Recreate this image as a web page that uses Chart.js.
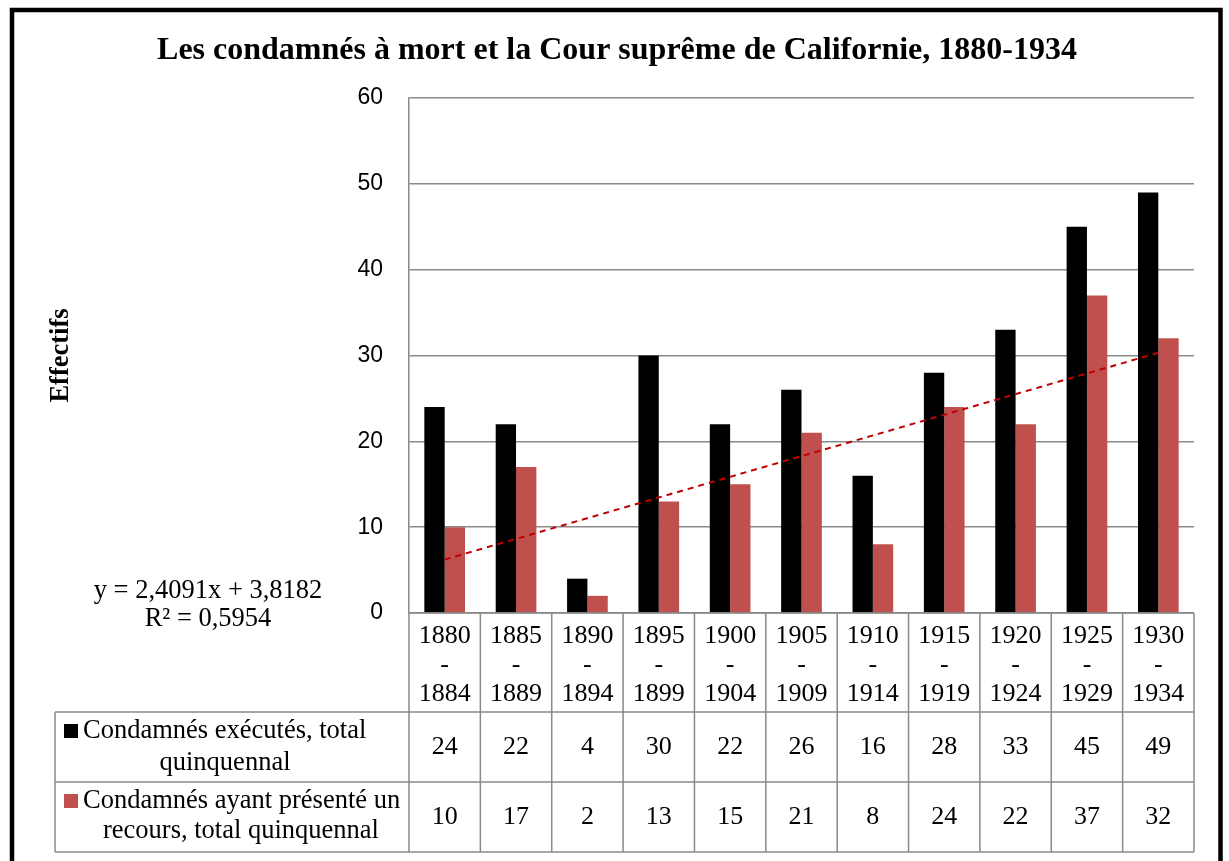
<!DOCTYPE html>
<html>
<head>
<meta charset="utf-8">
<script src="https://cdn.jsdelivr.net/npm/chart.js@4/dist/chart.umd.min.js"></script>
<style>
html,body{margin:0;padding:0;background:#fff;}
#wrap{width:1229px;height:861px;}
</style>
</head>
<body>
<div id="wrap"><canvas id="c" width="1229" height="861"></canvas></div>
<script>
const titleText = 'Les condamnés à mort et la Cour suprême de Californie, 1880-1934';
const categories = ['1880-1884','1885-1889','1890-1894','1895-1899','1900-1904','1905-1909','1910-1914','1915-1919','1920-1924','1925-1929','1930-1934'];
const executed = [24,22,4,30,22,26,16,28,33,45,49];
const appeals = [10,17,2,13,15,21,8,24,22,37,32];
const trendValues = [6.23,null,null,null,null,null,null,null,null,null,30.32];
const seriesNames = [['Condamnés exécutés, total','quinquennal'],['Condamnés ayant présenté un','recours, total quinquennal']];
const trendText = ['y = 2,4091x + 3,8182','R² = 0,5954'];
const yTicks = [0,10,20,30,40,50,60];

const SERIF = '"Liberation Serif","Times New Roman",serif';
const SANS = '"Liberation Sans",Arial,sans-serif';
const GRID = '#8a8a8a';
const BLACK = '#000000';
const RED = '#C0504D';

const tablePlugin = {
  id: 'tablePlugin',
  beforeDraw(chart){
    const ctx = chart.ctx;
    ctx.save();
    ctx.fillStyle = '#fff';
    ctx.fillRect(0,0,chart.width,chart.height);
    ctx.restore();
  },
  afterDraw(chart){
    const ctx = chart.ctx;
    const xs = chart.scales.x;
    const area = chart.chartArea;
    const n = categories.length;
    const cw = (area.right - area.left)/n;
    const rowTop = [area.bottom, 712, 782, 852];
    const leftX = 55;
    ctx.save();
    ctx.strokeStyle = GRID;
    ctx.lineWidth = 1.5;
    ctx.beginPath();
    ctx.moveTo(area.left, rowTop[0]); ctx.lineTo(area.right, rowTop[0]);
    for (let r=1;r<4;r++){ ctx.moveTo(leftX, rowTop[r]); ctx.lineTo(area.right, rowTop[r]); }
    for (let i=0;i<=n;i++){
      const x = (i<n ? xs.getPixelForValue(i) - cw/2 : xs.getPixelForValue(n-1) + cw/2);
      ctx.moveTo(x, rowTop[0]); ctx.lineTo(x, rowTop[3]);
    }
    ctx.moveTo(leftX, rowTop[1]); ctx.lineTo(leftX, rowTop[3]);
    ctx.stroke();

    ctx.fillStyle = '#000';
    ctx.textAlign = 'center';
    ctx.textBaseline = 'middle';
    ctx.font = '26px ' + SERIF;
    const rows = [executed, appeals];
    const rowMid = [747, 817];
    rows.forEach((arr, r) => {
      arr.forEach((v,i) => {
        ctx.fillText(String(v), xs.getPixelForValue(i), rowMid[r]);
      });
    });

    const colors = [BLACK, RED];
    const line1Y = [731, 801];
    const line2Y = [763, 831];
    const line2X = [225, 241];
    ctx.font = '26.5px ' + SERIF;
    for (let r=0;r<2;r++){
      ctx.fillStyle = colors[r];
      ctx.fillRect(64, line1Y[r]-7, 14, 14);
      ctx.fillStyle = '#000';
      ctx.textAlign = 'left';
      ctx.fillText(seriesNames[r][0], 83, line1Y[r]);
      ctx.textAlign = 'center';
      ctx.fillText(seriesNames[r][1], line2X[r], line2Y[r]);
    }

    ctx.font = '26.5px ' + SERIF;
    ctx.textAlign = 'center';
    ctx.fillText(trendText[0], 208, 591);
    ctx.fillText(trendText[1], 208, 619);

    ctx.strokeStyle = '#000';
    ctx.lineWidth = 4.5;
    ctx.strokeRect(12, 10, 1208.5, 900);
    ctx.restore();
  }
};

new Chart(document.getElementById('c'), {
  type: 'bar',
  data: {
    labels: categories.map(c => { const p = c.split('-'); return [p[0], '-', p[1]]; }),
    datasets: [
      {
        type: 'line',
        label: 'Linéaire',
        data: trendValues,
        spanGaps: true,
        borderColor: '#C00000',
        borderWidth: 2,
        borderDash: [6,5],
        pointRadius: 0,
        fill: false,
        order: 0
      },
      {
        label: seriesNames[0].join(' '),
        data: executed,
        backgroundColor: BLACK,
        categoryPercentage: 0.57,
        barPercentage: 1.0,
        order: 1
      },
      {
        label: seriesNames[1].join(' '),
        data: appeals,
        backgroundColor: RED,
        categoryPercentage: 0.57,
        barPercentage: 1.0,
        order: 1
      }
    ]
  },
  options: {
    responsive: false,
    animation: false,
    devicePixelRatio: 1,
    layout: { padding: { left: 40, right: 35, top: 0, bottom: 0 } },
    plugins: {
      legend: { display: false },
      tooltip: { enabled: false },
      title: {
        display: true,
        text: titleText,
        color: '#000',
        font: { family: SERIF, size: 32, weight: 'bold', lineHeight: 1.2 },
        padding: { top: 32, bottom: 27.6 }
      }
    },
    scales: {
      x: {
        offset: true,
        grid: { display: false },
        border: { display: false },
        ticks: {
          color: '#000',
          font: { family: SERIF, size: 26, lineHeight: 1.13 },
          maxRotation: 0, minRotation: 0, autoSkip: false,
          padding: 0
        },
        afterFit(s){ s.height = 248; }
      },
      y: {
        min: 0, max: 60,
        afterBuildTicks(s){ s.ticks = yTicks.map(v => ({value: v})); },
        ticks: {
          color: '#000',
          font: { family: SANS, size: 23 },
          padding: 26
        },
        grid: { color: GRID, lineWidth: 1.5, drawTicks: false },
        border: { display: true, color: GRID, width: 1.5 },
        title: {
          display: true,
          text: 'Effectifs',
          color: '#000',
          font: { family: SERIF, size: 26.5, weight: 'bold', lineHeight: 1.2 },
          padding: { top: 5, bottom: 4 }
        },
        afterFit(s){ s.width = 369; }
      }
    }
  },
  plugins: [tablePlugin]
});
</script>
</body>
</html>
